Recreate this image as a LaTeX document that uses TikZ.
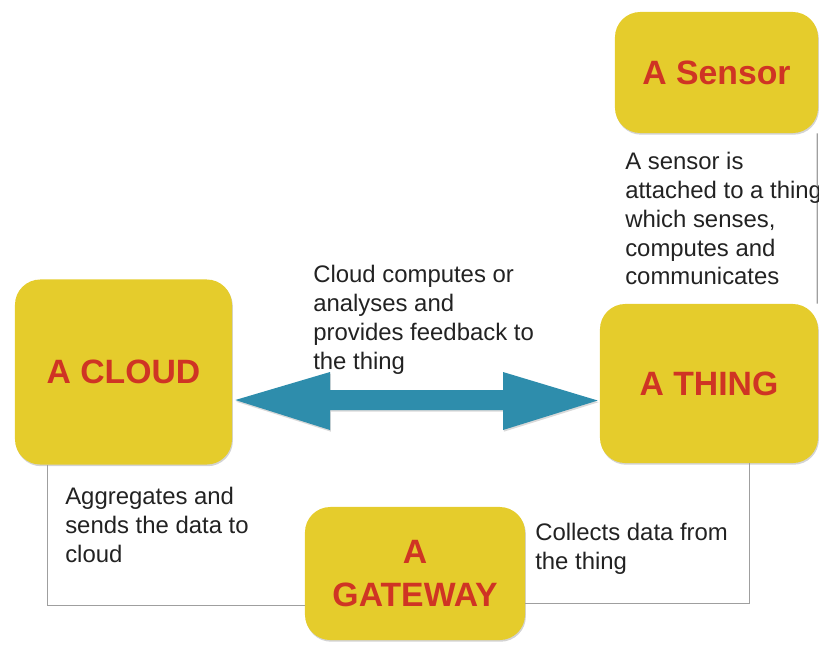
\documentclass[tikz,border=0pt]{standalone}
\usepackage{fontspec}
\setmainfont{Liberation Sans}
\usetikzlibrary{calc,shadows}
\definecolor{padyellow}{RGB}{229,204,44}
\definecolor{padred}{RGB}{207,52,36}
\definecolor{linkteal}{RGB}{46,141,172}
\definecolor{notegray}{RGB}{34,34,34}

\begin{document}
\begin{tikzpicture}[x=0.025cm, y=-0.025cm,
  pad/.style={fill=padyellow, rounded corners=18pt, text=padred, align=center,
    font=\fontsize{24}{30}\selectfont\bfseries,
    drop shadow={opacity=0.35, shadow xshift=0.6pt, shadow yshift=-1.2pt}},
  note/.style={anchor=north west, inner sep=0pt, align=left, text=notegray,
    font=\fontsize{17}{20.5}\selectfont},
  wire/.style={draw=gray!75, line width=0.9pt}]

\useasboundingbox (0,0) rectangle (819,646);

\node[pad, minimum width=5.075cm, minimum height=3.025cm] (sensor)  at (716.5,72.5) {A Sensor};
\node[pad, minimum width=5.425cm, minimum height=4.625cm] (cloud)   at (123.5,372)  {A CLOUD};
\node[pad, minimum width=5.45cm,  minimum height=3.975cm] (thing)   at (709,383.5)  {A THING};
\node[pad, minimum width=5.5cm,   minimum height=3.325cm] (gateway) at (415,573.5)  {A\\GATEWAY};

\fill[linkteal, drop shadow={opacity=0.3, shadow xshift=0.6pt, shadow yshift=-1.2pt}]
  ($(cloud.east)+(3,28)$) -- (330,372) -- (330,390) -- (503,390) -- (503,372)
  -- ($(thing.west)+(-2,17)$) -- (503,430) -- (503,410) -- (330,410) -- (330,430) -- cycle;

\draw[wire] ($(cloud.south west)+(33,0)$) |- ($(gateway.west)+(0,32)$);
\draw[wire] ($(gateway.east)+(0,30)$) -| ($(thing.south west)+(150,0)$);
\draw[wire] ($(sensor.south east)+(-1,0)$) -- ($(thing.north east)+(-1,0)$);

\node[note] (feedback)  at (313,265) {Cloud computes or\\analyses and\\provides feedback to\\the thing};
\node[note] (attach)    at (625,152) {A sensor is\\attached to a thing\\which senses,\\computes and\\communicates};
\node[note] (aggregate) at (65,487)  {Aggregates and\\sends the data to\\cloud};
\node[note] (collect)   at (535,523) {Collects data from\\the thing};
\end{tikzpicture}
\end{document}
